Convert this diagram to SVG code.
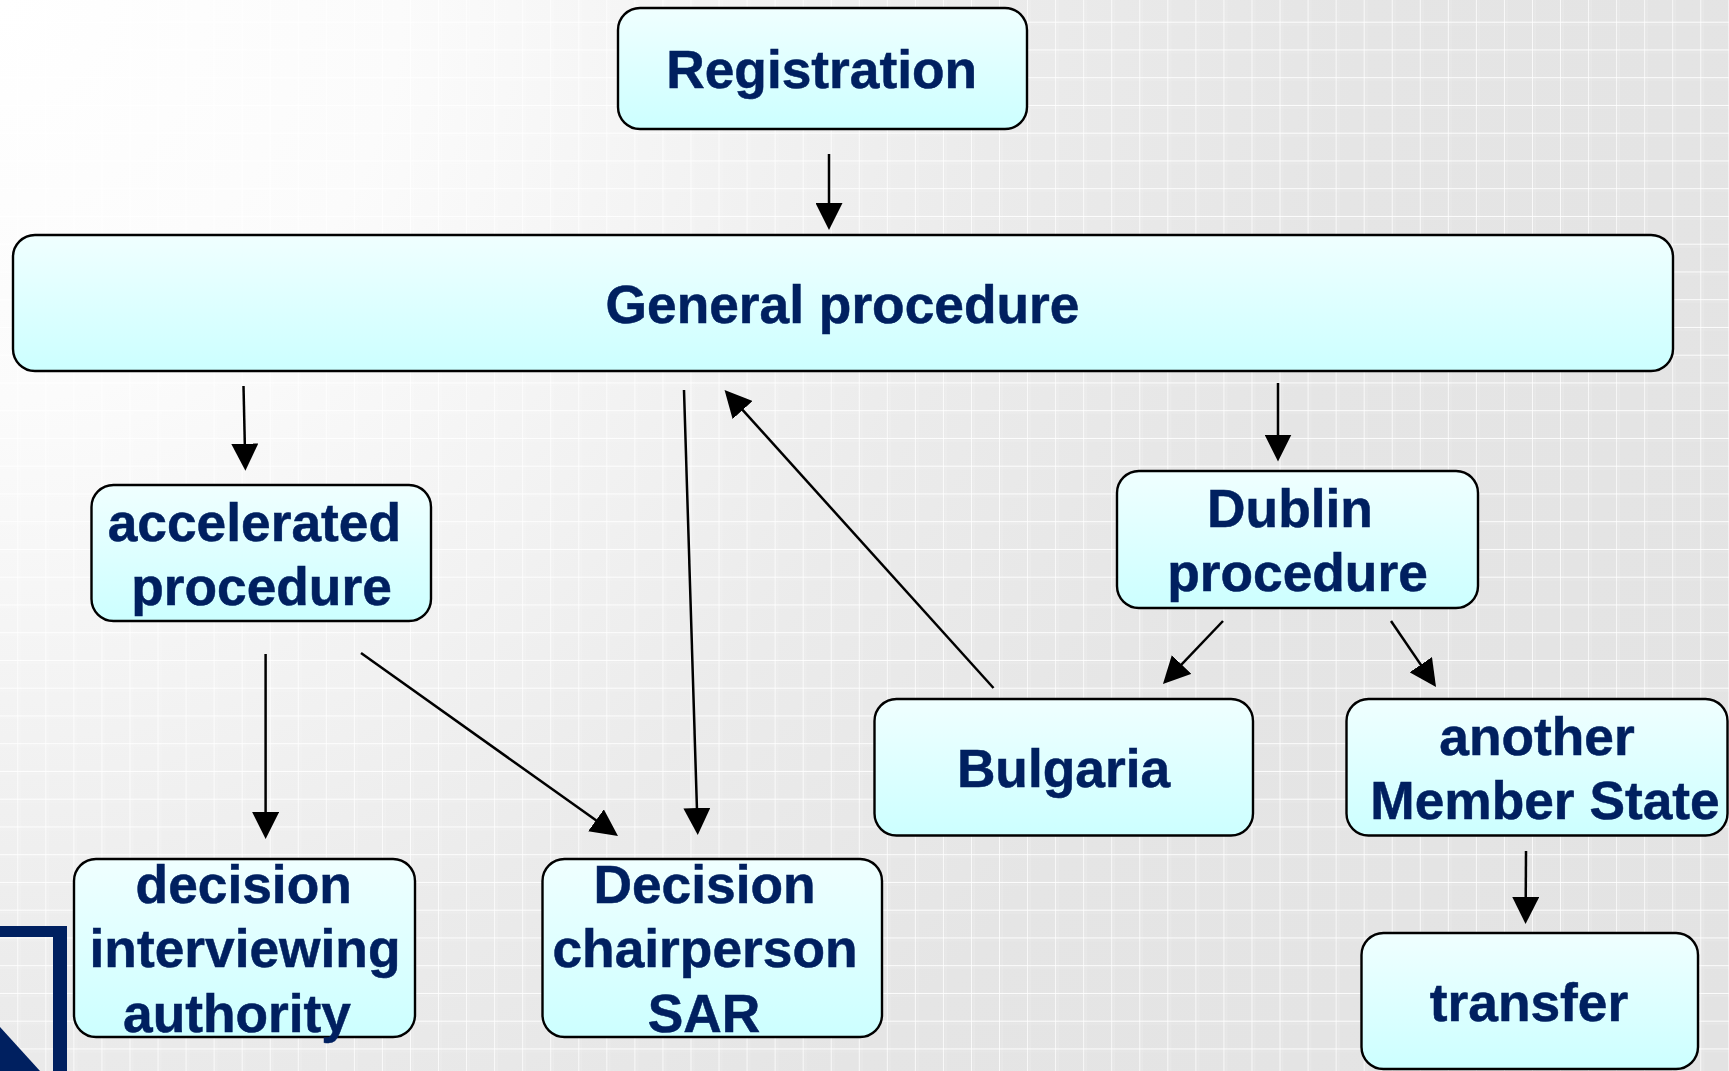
<svg xmlns="http://www.w3.org/2000/svg" width="1729" height="1071" viewBox="0 0 1729 1071">
<style>
.box{fill:url(#boxFill);stroke:#000;stroke-width:2.4}
.lbl{font-family:"Liberation Sans",Arial,sans-serif;font-weight:700;font-size:53.3px;fill:#002060;stroke:#002060;stroke-width:0.5;text-anchor:middle}
.conn{stroke:#000;stroke-width:2.5;fill:none;marker-end:url(#arrow)}
</style>
<defs>
<radialGradient id="bg" gradientUnits="userSpaceOnUse" cx="0" cy="0" r="2000">
<stop offset="0" stop-color="#ffffff"/>
<stop offset="0.2" stop-color="#fbfbfb"/>
<stop offset="0.35" stop-color="#f3f3f3"/>
<stop offset="0.5" stop-color="#ebebeb"/>
<stop offset="0.68" stop-color="#e5e5e5"/>
<stop offset="1" stop-color="#e3e3e3"/>
</radialGradient>
<linearGradient id="boxFill" x1="0" y1="0" x2="0" y2="1">
<stop offset="0" stop-color="#f0ffff"/>
<stop offset="1" stop-color="#ccffff"/>
</linearGradient>
<pattern id="grid" patternUnits="userSpaceOnUse" x="17.3" y="21.7" width="28.05" height="27.75">
<path d="M0 0V27.75" stroke="#ffffff" stroke-width="1.8" stroke-opacity="0.85" fill="none"/>
<path d="M0 0H28.05" stroke="#ffffff" stroke-width="2" stroke-opacity="0.9" fill="none"/>
<path d="M3 0V27.75M0 3H28.05" stroke="#ffffff" stroke-width="1" stroke-opacity="0.18" fill="none"/>
</pattern>
<marker id="arrow" markerUnits="userSpaceOnUse" markerWidth="27" markerHeight="27" refX="22" refY="13.5" orient="auto">
<path d="M0 0L27 13.5L0 27Z" fill="#000"/>
</marker>
</defs>
<g id="background">
<rect width="1729" height="1071" fill="url(#bg)"/>
<rect width="1729" height="1071" fill="url(#grid)"/>
<path d="M0 926H67V1071H53V937H0Z" fill="#002060"/>
<path d="M0 1027L40 1071H0Z" fill="#002060"/>
</g>
<g id="connectors">
<line class="conn" x1="829" y1="154" x2="829" y2="225"/>
<line class="conn" x1="243.5" y1="386" x2="245.3" y2="465.7"/>
<line class="conn" x1="684" y1="390" x2="697.6" y2="830"/>
<line class="conn" x1="993.5" y1="688" x2="727.9" y2="393.7"/>
<line class="conn" x1="1278" y1="383" x2="1278" y2="456.5"/>
<line class="conn" x1="1223" y1="621" x2="1166.4" y2="680.4"/>
<line class="conn" x1="1391" y1="621" x2="1433.2" y2="682.9"/>
<line class="conn" x1="1526" y1="851" x2="1525.6" y2="919"/>
<line class="conn" x1="265.6" y1="654" x2="265.6" y2="834"/>
<line class="conn" x1="361" y1="653" x2="613.9" y2="833.1"/>
</g>
<g id="registration"><rect class="box" x="618" y="8" width="409" height="121" rx="22"/><text class="lbl" x="821.7" y="88">Registration</text></g>
<g id="general"><rect class="box" x="13" y="235" width="1660" height="136" rx="22"/><text class="lbl" x="842.5" y="323">General procedure</text></g>
<g id="accelerated"><rect class="box" x="91.5" y="485" width="339.5" height="136" rx="22"/><text class="lbl" x="254.3" y="540.7">accelerated</text><text class="lbl" x="261.5" y="604.5">procedure</text></g>
<g id="dublin"><rect class="box" x="1117" y="471" width="361" height="137" rx="22"/><text class="lbl" x="1290" y="527">Dublin</text><text class="lbl" x="1297.5" y="591">procedure</text></g>
<g id="bulgaria"><rect class="box" x="874.5" y="699" width="378.5" height="136.5" rx="22"/><text class="lbl" x="1063.5" y="787">Bulgaria</text></g>
<g id="another"><rect class="box" x="1346.5" y="699" width="381" height="136.5" rx="22"/><text class="lbl" x="1537" y="755">another</text><text class="lbl" x="1545" y="818.7">Member State</text></g>
<g id="transfer"><rect class="box" x="1361.5" y="933" width="336.5" height="136" rx="22"/><text class="lbl" x="1529" y="1021">transfer</text></g>
<g id="decision-interviewing"><rect class="box" x="74" y="859" width="341" height="178" rx="22"/><text class="lbl" x="243.7" y="903">decision</text><text class="lbl" x="245" y="967">interviewing</text><text class="lbl" x="237" y="1031.7">authority</text></g>
<g id="decision-chairperson"><rect class="box" x="542.5" y="859" width="339.5" height="178" rx="22"/><text class="lbl" x="704.5" y="903">Decision</text><text class="lbl" x="705" y="967">chairperson</text><text class="lbl" x="704" y="1031.7">SAR</text></g>
</svg>
